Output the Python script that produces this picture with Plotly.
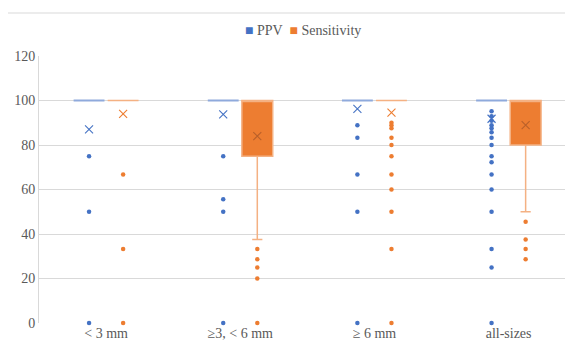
import plotly.graph_objects as go

categories = ["< 3 mm", "≥3, < 6 mm", "≥ 6 mm", "all-sizes"]

# PPV box statistics
ppv_q1 = [100, 100, 100, 100]
ppv_median = [100, 100, 100, 100]
ppv_q3 = [100, 100, 100, 100]
ppv_lower = [100, 100, 100, 100]
ppv_upper = [100, 100, 100, 100]
ppv_mean = [87.0, 93.8, 96.2, 91.8]
ppv_outliers = [
    [75, 50, 0],
    [75, 55.6, 50, 0],
    [88.9, 83.3, 66.7, 50, 0],
    [95.2, 92.9, 90.9, 88.9, 87.5, 85.7, 83.3, 80, 75, 72.2, 66.7, 60, 50, 33.3, 25, 0],
]

# Sensitivity box statistics
sens_q1 = [100, 75, 100, 80]
sens_median = [100, 100, 100, 100]
sens_q3 = [100, 100, 100, 100]
sens_lower = [100, 37.5, 100, 50]
sens_upper = [100, 100, 100, 100]
sens_mean = [94.0, 84.0, 94.6, 88.9]
sens_outliers = [
    [66.7, 33.3, 0],
    [33.3, 28.6, 25, 20, 0],
    [90, 88.9, 87.5, 83.3, 80, 75, 66.7, 60, 50, 33.3, 0],
    [45.5, 37.5, 33.3, 28.6],
]

y_ticks = [0, 20, 40, 60, 80, 100, 120]
series_names = ["PPV", "Sensitivity"]

BLUE = "#4472C4"
BLUE_LIGHT = "#8FAADC"
ORANGE = "#ED7D31"
ORANGE_LIGHT = "#F4B183"
TEXT = "#595959"
GRID = "#D9D9D9"
FONT = "Liberation Serif"

OFF = 0.127
BOXW = 0.23
pos = list(range(len(categories)))

fig = go.Figure()

series = [
    (series_names[0], -OFF, ppv_q1, ppv_median, ppv_q3, ppv_lower, ppv_upper, ppv_mean, ppv_outliers,
     BLUE, BLUE_LIGHT, 2, [BLUE] * 4),
    (series_names[1], OFF, sens_q1, sens_median, sens_q3, sens_lower, sens_upper, sens_mean, sens_outliers,
     ORANGE, ORANGE_LIGHT, 1.5, [ORANGE, "#B9602A", ORANGE, "#B9602A"]),
]

for (name, off, q1, med, q3, lo, up, mean, outl, col, lcol, lw, mcols) in series:
    xs = [p + off for p in pos]
    fig.add_trace(go.Box(
        x=xs, q1=q1, median=med, q3=q3, lowerfence=lo, upperfence=up,
        width=BOXW, fillcolor=col, line=dict(color=lcol, width=lw),
        whiskerwidth=0.33, boxpoints=False, showlegend=False, name=name,
        hoverinfo="skip",
    ))
    ox, oy = [], []
    for p, vals in zip(xs, outl):
        ox += [p] * len(vals)
        oy += vals
    fig.add_trace(go.Scatter(
        x=ox, y=oy, mode="markers", showlegend=False,
        marker=dict(color=col, size=4.5, symbol="circle"),
        cliponaxis=False,
    ))
    fig.add_trace(go.Scatter(
        x=xs, y=mean, mode="markers", showlegend=False,
        marker=dict(symbol="x-thin", size=8, line=dict(color=mcols, width=1.1)),
    ))

# legend built as text
legend_text = (
    f"<span style='color:{BLUE}'>■</span> {series_names[0]}  "
    f"<span style='color:{ORANGE}'>■</span> {series_names[1]}"
)
fig.add_annotation(xref="paper", yref="paper", x=0.495, y=1.095,
                   xanchor="center", yanchor="middle", showarrow=False,
                   text=legend_text, font=dict(family=FONT, size=14, color=TEXT))

# chart area border
fig.add_shape(type="rect", xref="paper", yref="paper",
              x0=-0.06, x1=1.2, y0=-0.3, y1=1.161,
              line=dict(color=GRID, width=1), layer="below")

fig.update_layout(
    width=565, height=337,
    margin=dict(l=31, r=0, t=48, b=22),
    paper_bgcolor="white", plot_bgcolor="white",
    boxmode="overlay",
    showlegend=False,
    font=dict(family=FONT, size=14, color=TEXT),
    xaxis=dict(range=[-0.5, 3.48], tickvals=pos, ticktext=categories,
               showgrid=False, zeroline=False, showline=False, ticks="",
               tickfont=dict(family=FONT, size=14, color=TEXT)),
    yaxis=dict(range=[0, 120], tickvals=y_ticks, showgrid=True, gridcolor=GRID,
               gridwidth=1, zeroline=False, showline=True, linecolor=GRID,
               linewidth=1, ticks="", ticklen=0,
               tickfont=dict(family=FONT, size=14, color=TEXT)),
)

fig.write_html("out.html")
